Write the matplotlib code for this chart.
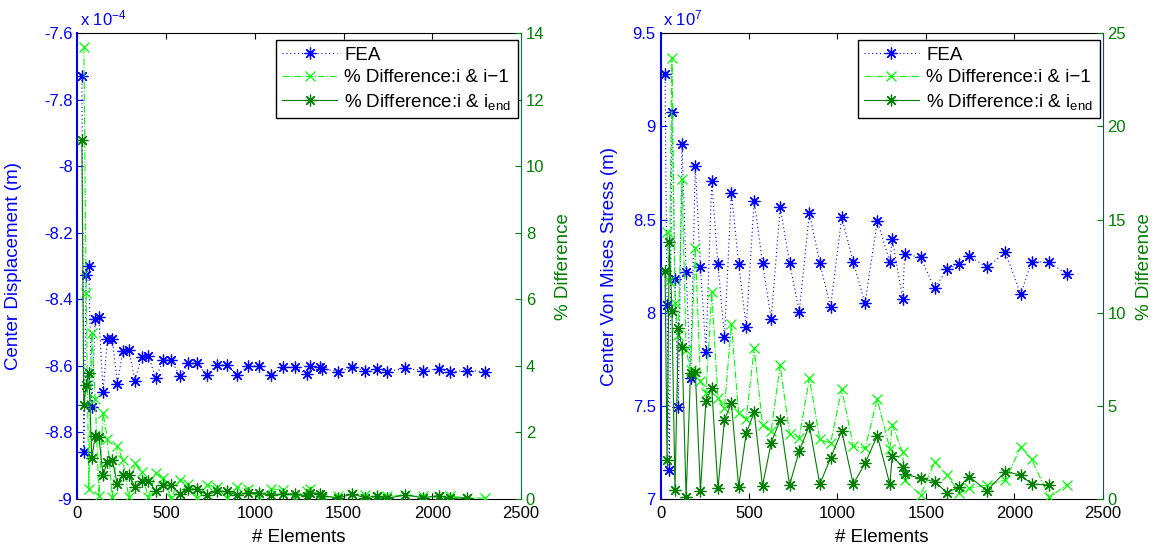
import matplotlib.pyplot as plt

plt.rcParams['font.family'] = ['Liberation Sans', 'DejaVu Sans']
plt.rcParams['font.size'] = 12
plt.rcParams['axes.unicode_minus'] = False
plt.rcParams['mathtext.fontset'] = 'custom'
plt.rcParams['mathtext.rm'] = 'Liberation Sans'
plt.rcParams['mathtext.it'] = 'Liberation Sans:italic'
plt.rcParams['mathtext.default'] = 'regular'

# number of elements of each mesh
elements = [25, 36, 49, 64, 81, 100, 121, 144, 169, 196, 225, 256, 289, 324, 361,
            400, 441, 484, 529, 576, 625, 676, 729, 784, 841, 900, 961, 1024, 1089,
            1156, 1225, 1296, 1310, 1369, 1380, 1470, 1550, 1620, 1689, 1745, 1845,
            1950, 2036, 2098, 2198, 2296]

# center displacement (x 1e-4 m)
disp_fea = [-7.728, -8.858, -8.327, -8.300, -8.722, -8.460, -8.454, -8.677, -8.520,
            -8.518, -8.654, -8.554, -8.552, -8.644, -8.572, -8.570, -8.636, -8.582,
            -8.582, -8.630, -8.592, -8.592, -8.628, -8.597, -8.597, -8.627, -8.600,
            -8.600, -8.627, -8.604, -8.604, -8.625, -8.600, -8.604, -8.608, -8.617,
            -8.604, -8.614, -8.610, -8.617, -8.607, -8.614, -8.609, -8.617, -8.614,
            -8.617]
disp_prev = [13.6, 6.2, 0.3, 5.0, 3.0, 0.1, 2.6, 1.8, 0.05, 1.6, 1.17, 0.05, 1.07, 0.8,
             0.05, 0.77, 0.62, 0.03, 0.58, 0.44, 0.03, 0.42, 0.36, 0.03, 0.35, 0.31,
             0.03, 0.31, 0.27, 0.03, 0.24, 0.29, 0.05, 0.05, 0.1, 0.15, 0.12, 0.05,
             0.08, 0.12, 0.08, 0.06, 0.09, 0.03, 0.03]
disp_end = [10.8, 2.83, 3.43, 3.78, 1.24, 1.89, 1.87, 0.72, 1.12, 1.17, 0.45, 0.72,
            0.72, 0.37, 0.55, 0.55, 0.24, 0.41, 0.41, 0.16, 0.29, 0.29, 0.13, 0.23,
            0.23, 0.12, 0.19, 0.19, 0.11, 0.15, 0.15, 0.09, 0.19, 0.15, 0.1, 0.03,
            0.15, 0.04, 0.08, 0.02, 0.12, 0.04, 0.1, 0.02, 0.04]

# center von mises stress (x 1e7)
stress_fea = [9.28, 8.04, 7.156, 9.08, 8.18, 7.495, 8.904, 8.22, 7.65, 8.787, 8.247,
              7.791, 8.707, 8.259, 7.868, 8.644, 8.264, 7.925, 8.601, 8.267, 7.966,
              8.566, 8.268, 8.005, 8.537, 8.268, 8.029, 8.512, 8.274, 8.050, 8.494,
              8.274, 8.396, 8.072, 8.315, 8.297, 8.131, 8.235, 8.261, 8.304, 8.244,
              8.324, 8.100, 8.274, 8.271, 8.208]
stress_prev = [14.35, 11.7, 23.7, 10.5, 8.8, 17.2, 8.0, 6.9, 13.5, 6.35, 5.7, 11.1,
               5.4, 4.9, 9.4, 4.6, 4.3, 8.1, 4.0, 3.65, 7.2, 3.5, 3.3, 6.5, 3.2, 3.0,
               5.9, 2.84, 2.72, 5.35, 2.7, 4.0, 2.5, 1.0, 0.21, 2.0, 1.29, 0.31, 0.57,
               0.75, 1.02, 2.77, 2.13, 0.09, 0.75]
stress_end = [12.24, 2.1, 13.8, 10.1, 0.48, 9.16, 8.14, 0.12, 6.75, 6.8, 0.45, 5.28,
              5.94, 0.57, 4.24, 5.17, 0.66, 3.53, 4.65, 0.7, 3.02, 4.24, 0.75, 2.59,
              3.94, 0.79, 2.2, 3.65, 0.8, 1.92, 3.4, 0.8, 2.31, 1.7, 1.34, 1.11, 0.93,
              0.34, 0.66, 1.2, 0.45, 1.47, 1.29, 0.8, 0.75]

BLUE = (0, 0, 1)
LIGHT = (0, 1, 0)
DARK = (0, 0.5, 0)
STAR = (8, 2, 0)

fig = plt.figure(figsize=(11.56, 5.5), dpi=100)


def panel(rect, fea, prev, end, ylim, yticks, ylabel, expo, y2lim, y2ticks, rcolor):
    ax = fig.add_axes(rect)
    ax2 = ax.twinx()

    l1, = ax.plot(elements, fea, linestyle=(0, (1, 2.5)), color=BLUE, lw=0.8,
                  marker=STAR, ms=8.5, mew=0.9, label='FEA')
    l2, = ax2.plot(elements[1:], prev, '-.', color=LIGHT, lw=0.8, marker='x', ms=7,
                   mew=0.9, label='% Difference:i & i\u22121')
    l3, = ax2.plot(elements[:-1], end, '-', color=DARK, lw=0.8, marker=STAR, ms=8.5,
                   mew=0.9, label='% Difference:i & i$_{end}$')

    ax.set_xlim(0, 2500)
    ax.set_xticks(range(0, 2501, 500))
    ax.set_ylim(ylim)
    ax.set_yticks(yticks)
    ax.set_yticklabels(['%g' % t for t in yticks])
    ax.tick_params(direction='in', length=4, top=True, right=False)
    ax.tick_params(axis='x', pad=5)
    ax.tick_params(axis='y', colors=BLUE)
    ax.spines['left'].set_color(BLUE)
    ax.spines['left'].set_linewidth(1.5)
    ax.spines['right'].set_visible(False)
    ax.set_xlabel('# Elements', fontsize=13.5, labelpad=6)
    ax.set_ylabel(ylabel, color=BLUE, fontsize=13.5)
    ax.text(0.005, 1.01, 'x 10$^{%s}$' % expo, transform=ax.transAxes,
            color=BLUE, ha='left', va='bottom')

    ax2.set_ylim(y2lim)
    ax2.set_yticks(y2ticks)
    ax2.tick_params(axis='y', direction='in', length=4, colors=DARK)
    for s in ['left', 'top', 'bottom']:
        ax2.spines[s].set_visible(False)
    ax2.spines['right'].set_color(rcolor)
    ax2.set_ylabel('% Difference', color=DARK, fontsize=13.5)

    leg = ax2.legend([l1, l2, l3], [l1.get_label(), l2.get_label(), l3.get_label()],
                     loc='upper right', bbox_to_anchor=(0.993, 0.986),
                     borderaxespad=0, fancybox=False, framealpha=1,
                     edgecolor='black', fontsize=13.5, handlelength=2.9,
                     handletextpad=0.4, labelspacing=0.3, borderpad=0.35)
    leg.get_frame().set_linewidth(1.0)
    return ax, ax2


a1, b1 = panel([0.067, 0.0927, 0.3837, 0.8467], disp_fea, disp_prev, disp_end,
               (-9, -7.6), [-9, -8.8, -8.6, -8.4, -8.2, -8, -7.8, -7.6],
               'Center Displacement (m)', '-4', (0, 14), range(0, 15, 2),
               (0, 0.45, 0.3))
a1.yaxis.set_label_coords(-0.125, 0.5)
b1.yaxis.set_label_coords(1.077, 0.5)

a2, b2 = panel([0.5715, 0.0927, 0.3824, 0.8467], stress_fea, stress_prev, stress_end,
               (7, 9.5), [7, 7.5, 8, 8.5, 9, 9.5],
               'Center Von Mises Stress (m)', '7', (0, 25), range(0, 26, 5),
               (0.1, 0.3, 0.45))
a2.yaxis.set_label_coords(-0.097, 0.5)
b2.yaxis.set_label_coords(1.075, 0.5)

fig.savefig('out.png', dpi=100)
